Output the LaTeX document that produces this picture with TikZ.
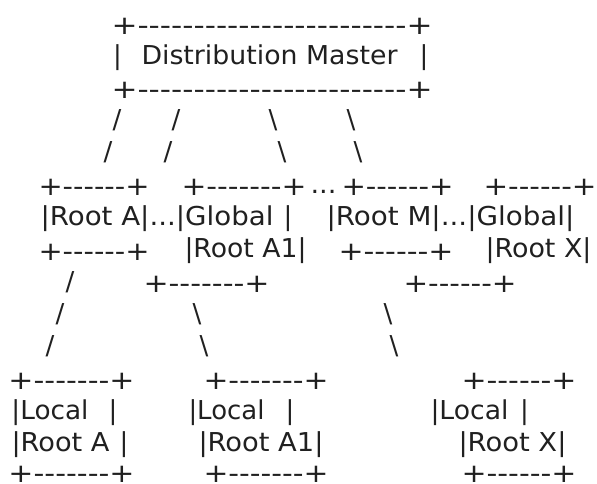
\documentclass[tikz,border=0pt]{standalone}
\usepackage{fontspec}
\setmainfont{DejaVu Sans}[Ligatures=TeXOff]
\usepackage{graphicx}
\definecolor{ink}{HTML}{202020}
\tikzset{
  seg/.style={anchor=base west, inner sep=0pt, outer sep=0pt, text=ink, font=\fontsize{26}{30}\selectfont},
  rule/.style={seg, yshift=-2.5pt},
  glyph/.style={anchor=base, inner sep=0pt, outer sep=0pt, text=ink, font=\fontsize{26}{30}\selectfont},
}
\newcommand\fitto[2]{\resizebox{#1pt}{\height}{#2}}
\begin{document}
\begin{tikzpicture}[x=1pt,y=-1pt]
\fill[white] (0,0) rectangle (597,483);
\useasboundingbox (0,0) rectangle (597,483);
% master box
\node[rule] (mtop) at (111.5,31.7) {\fitto{321}{+------------------------+}};
\node[glyph] (mbl) at (117.5,64) {|};
\node[seg] (mtxt) at (141.5,64) {\fitto{256}{Distribution Master}};
\node[glyph] (mbr) at (424,64) {|};
\node[rule] (mbot) at (111.5,96.3) {\fitto{321}{+------------------------+}};
% line 4
\node[glyph] (s4a) at (117,128.6) {/};
\node[glyph] (s4b) at (176,128.6) {/};
\node[glyph] (s4c) at (273,128.6) {\textbackslash};
\node[glyph] (s4d) at (351,128.6) {\textbackslash};
% line 5
\node[glyph] (s5a) at (108,160.9) {/};
\node[glyph] (s5b) at (168,160.9) {/};
\node[glyph] (s5c) at (282,160.9) {\textbackslash};
\node[glyph] (s5d) at (358,160.9) {\textbackslash};
% line 6
\node[rule] (rAtop) at (38.5,193.2) {\fitto{111}{+------+}};
\node[rule] (gA1top) at (181.5,193.2) {\fitto{125}{+-------+}};
\node[seg] (dots6) at (310.5,193.2) {\fitto{26}{...}};
\node[rule] (rMtop) at (341.5,193.2) {\fitto{112}{+------+}};
\node[rule] (gXtop) at (483.5,193.2) {\fitto{113}{+------+}};
% line 7
\node[seg] (l7a) at (40.5,225.5) {\fitto{233}{|Root A|...|Global}};
\node[glyph] (l7bar) at (288,225.5) {|};
\node[seg] (l7b) at (326.5,225.5) {\fitto{248}{|Root M|...|Global|}};
% line 8
\node[rule] (rAbot) at (38.5,257.8) {\fitto{111}{+------+}};
\node[seg] (gA1txt) at (184.5,257.8) {\fitto{122}{|Root A1|}};
\node[rule] (rMbot) at (338.5,257.8) {\fitto{115}{+------+}};
\node[seg] (gXtxt) at (485.5,257.8) {\fitto{106}{|Root X|}};
% line 9
\node[glyph] (s9a) at (70,290.1) {/};
\node[rule] (gA1bot) at (143.5,290.1) {\fitto{126}{+-------+}};
\node[rule] (gXbot) at (403.5,290.1) {\fitto{113}{+------+}};
% line 10
\node[glyph] (s10a) at (60,322.4) {/};
\node[glyph] (s10b) at (197,322.4) {\textbackslash};
\node[glyph] (s10c) at (388,322.4) {\textbackslash};
% line 11
\node[glyph] (s11a) at (50,354.7) {/};
\node[glyph] (s11b) at (204,354.7) {\textbackslash};
\node[glyph] (s11c) at (394,354.7) {\textbackslash};
% line 12
\node[rule] (lAtop) at (8.5,387) {\fitto{126}{+-------+}};
\node[rule] (lA1top) at (203.5,387) {\fitto{125}{+-------+}};
\node[rule] (lXtop) at (461.5,387) {\fitto{115}{+------+}};
% line 13
\node[seg] (lAt1) at (11.5,419.3) {\fitto{77}{|Local}};
\node[glyph] (lAb1) at (113,419.3) {|};
\node[seg] (lA1t1) at (188.5,419.3) {\fitto{76}{|Local}};
\node[glyph] (lA1b1) at (290,419.3) {|};
\node[seg] (lXt1) at (430.5,419.3) {\fitto{78}{|Local}};
\node[glyph] (lXb1) at (524.5,419.3) {|};
% line 14
\node[seg] (lAt2) at (11.5,451.6) {\fitto{98}{|Root A}};
\node[glyph] (lAb2) at (124,451.6) {|};
\node[seg] (lA1t2) at (198.5,451.6) {\fitto{125}{|Root A1|}};
\node[seg] (lXt2) at (458.5,451.6) {\fitto{108}{|Root X|}};
% line 15
\node[seg] (lAbot) at (8.5,482.8) {\fitto{126}{+-------+}};
\node[seg] (lA1bot) at (203.5,482.8) {\fitto{125}{+-------+}};
\node[seg] (lXbot) at (461.5,482.8) {\fitto{115}{+------+}};
\end{tikzpicture}
\end{document}
